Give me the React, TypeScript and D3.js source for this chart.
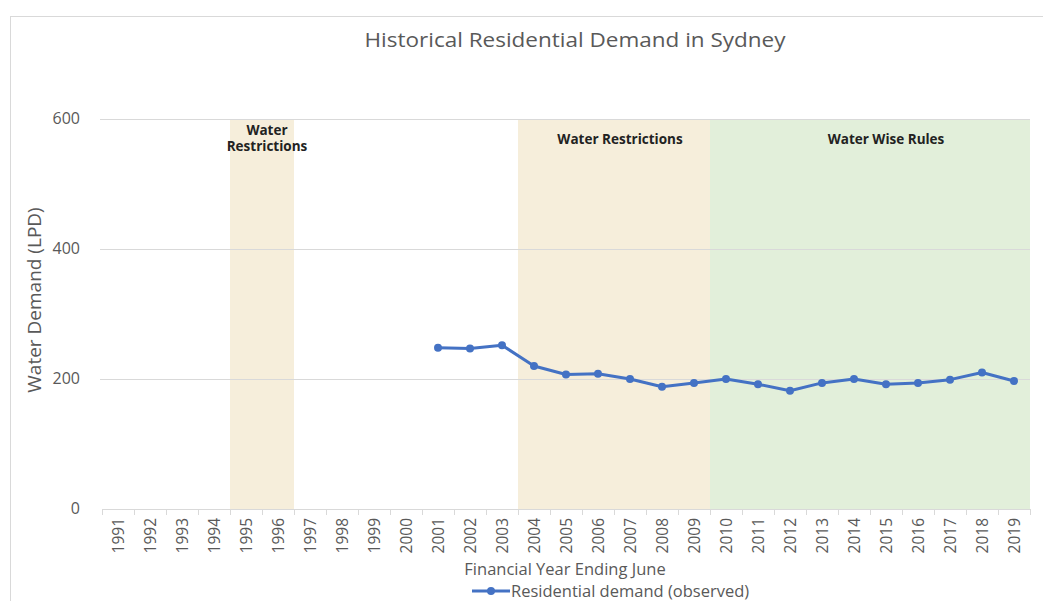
import { useEffect, useRef } from 'react'
import * as d3 from 'd3'

const years = d3.range(1991, 2020).map(String)
const demandYears = [
  '2001', '2002', '2003', '2004', '2005', '2006', '2007', '2008', '2009', '2010',
  '2011', '2012', '2013', '2014', '2015', '2016', '2017', '2018', '2019',
]
const demandValues = [
  248, 247, 252, 220, 207, 208, 200, 188, 194, 200,
  192, 182, 194, 200, 192, 194, 199, 210, 197,
]
const yTicks = [0, 200, 400, 600]

const periodLabels = [['Water', 'Restrictions'], ['Water Restrictions'], ['Water Wise Rules']]
const periodStarts = ['1995', '2004', '2010']
const periodEnds = ['1996', '2009', '2019']
const periodColors = ['#f6eedb', '#f6eedb', '#e2efda']

export default function App() {
  const svgRef = useRef<SVGSVGElement>(null)

  useEffect(() => {
    if (!svgRef.current) return
    const svg = d3.select(svgRef.current)
    svg.selectAll('*').remove()

    const width = 1043
    const height = 601
    const margin = { top: 119, right: 13, bottom: 92, left: 102 }
    const font = '"Open Sans", "Noto Sans", sans-serif'
    const labelShift = [5, 6, 16]

    // chart frame
    svg.append('rect')
      .attr('x', 10.5).attr('y', 16.5)
      .attr('width', width + 20).attr('height', height)
      .attr('fill', '#fff').attr('stroke', '#d9d9d9')

    const x = d3.scaleBand()
      .domain(years)
      .range([margin.left, width - margin.right])

    const y = d3.scaleLinear()
      .domain([0, 600])
      .range([height - margin.bottom, margin.top])

    // shaded periods
    periodStarts.forEach((s, i) => {
      const x0 = x(s)!
      const x1 = x(periodEnds[i])! + x.bandwidth()
      svg.append('rect')
        .attr('x', x0).attr('y', y(600))
        .attr('width', x1 - x0).attr('height', y(0) - y(600))
        .attr('fill', periodColors[i])
      const lines = periodLabels[i]
      const cx = (x0 + x1) / 2 + labelShift[i]
      const t = svg.append('text')
        .attr('text-anchor', 'middle')
        .attr('font-family', font)
        .attr('font-size', 13.5)
        .attr('font-weight', 700)
        .attr('fill', '#222')
      lines.forEach((l, j) => {
        t.append('tspan')
          .attr('x', cx)
          .attr('y', (lines.length > 1 ? 135 : 144) + j * 16)
          .text(l)
      })
    })

    // gridlines
    svg.append('g')
      .selectAll('line')
      .data(yTicks.filter(d => d > 0))
      .join('line')
      .attr('x1', 100).attr('x2', width - margin.right)
      .attr('y1', d => y(d) + 0.5).attr('y2', d => y(d) + 0.5)
      .attr('stroke', '#d9d9d9')

    // y tick labels
    svg.append('g')
      .selectAll('text')
      .data(yTicks)
      .join('text')
      .attr('x', 80)
      .attr('y', d => y(d) + 5)
      .attr('text-anchor', 'end')
      .attr('font-family', font)
      .attr('font-size', 16)
      .attr('fill', '#595959')
      .text(d => d)

    // x axis
    const xAxis = svg.append('g')
      .attr('transform', `translate(0,${y(0)})`)
    xAxis.append('line')
      .attr('x1', x.range()[0]).attr('x2', x.range()[1])
      .attr('y1', 0.5).attr('y2', 0.5)
      .attr('stroke', '#d9d9d9')
    xAxis.selectAll('line.tick')
      .data([...years, 'end'])
      .join('line')
      .attr('class', 'tick')
      .attr('x1', (d, i) => x.range()[0] + i * x.bandwidth() + 0.5)
      .attr('x2', (d, i) => x.range()[0] + i * x.bandwidth() + 0.5)
      .attr('y1', 0).attr('y2', 6)
      .attr('stroke', '#d9d9d9')
    xAxis.selectAll('text')
      .data(years)
      .join('text')
      .attr('transform', d => `translate(${x(d)! + x.bandwidth() / 2 + 5.5},9) rotate(-90)`)
      .attr('text-anchor', 'end')
      .attr('font-family', font)
      .attr('font-size', 15.5)
      .attr('fill', '#595959')
      .text(d => d)

    // line series
    const pts = demandYears.map((yr, i) => [x(yr)! + x.bandwidth() / 2, y(demandValues[i])] as [number, number])
    svg.append('path')
      .attr('d', d3.line()(pts))
      .attr('fill', 'none')
      .attr('stroke', '#4472c4')
      .attr('stroke-width', 3)
      .attr('stroke-linejoin', 'round')
    svg.append('g')
      .selectAll('circle')
      .data(pts)
      .join('circle')
      .attr('cx', d => d[0]).attr('cy', d => d[1])
      .attr('r', 4)
      .attr('fill', '#4472c4')

    // title
    svg.append('text')
      .attr('x', 575).attr('y', 47)
      .attr('text-anchor', 'middle')
      .attr('font-family', font)
      .attr('font-size', 20)
      .attr('fill', '#595959')
      .attr('textLength', 421)
      .attr('lengthAdjust', 'spacingAndGlyphs')
      .text('Historical Residential Demand in Sydney')

    // axis titles
    svg.append('text')
      .attr('transform', 'translate(41,300) rotate(-90)')
      .attr('text-anchor', 'middle')
      .attr('font-family', font)
      .attr('font-size', 19)
      .attr('fill', '#595959')
      .text('Water Demand (LPD)')

    svg.append('text')
      .attr('x', 565).attr('y', 575)
      .attr('text-anchor', 'middle')
      .attr('font-family', font)
      .attr('font-size', 16.5)
      .attr('fill', '#595959')
      .text('Financial Year Ending June')

    // legend
    const lg = svg.append('g').attr('transform', 'translate(472,591)')
    lg.append('line')
      .attr('x1', 0).attr('x2', 38)
      .attr('stroke', '#4472c4').attr('stroke-width', 3)
    lg.append('circle').attr('cx', 19).attr('r', 4).attr('fill', '#4472c4')
    lg.append('text')
      .attr('x', 39).attr('y', 6)
      .attr('font-family', font)
      .attr('font-size', 16.5)
      .attr('fill', '#595959')
      .text('Residential demand (observed)')
  }, [])

  return (
    <svg
      ref={svgRef}
      width={1043}
      height={601}
      style={{ position: 'absolute', left: 0, top: 0, background: '#fff' }}
    />
  )
}
